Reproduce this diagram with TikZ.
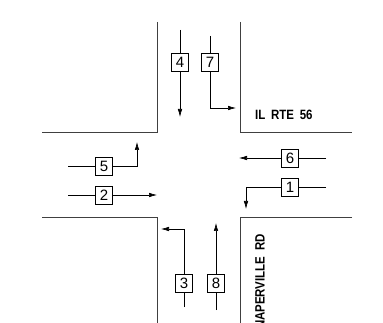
\documentclass[tikz,border=0pt]{standalone}
\usepackage{fontspec}
\usepackage{graphicx}
\setmainfont{Liberation Sans}
\usetikzlibrary{arrows.meta}
\newcommand{\streettext}[1]{\scalebox{0.85}[1]{\bfseries\fontsize{13.5}{13.5}\selectfont #1}}
\begin{document}
\begin{tikzpicture}[x=1pt,y=-1pt,
  curb/.style={draw=black!75,line width=0.9pt},
  lane/.style={draw=black,line width=0.6pt},
  arr/.style={lane,-{Latex[length=8pt,width=4.5pt]}},
  box/.style={draw=black,line width=0.8pt,minimum width=17pt,minimum height=18pt,inner sep=0pt,font=\fontsize{15}{15}\selectfont},
  street/.style={inner sep=0pt}]
\useasboundingbox (0,0) rectangle (383,323);
\begin{scope}
\clip (0,0) rectangle (383,323);
% curbs
\draw[curb] (157,22) -- (157,132) -- (42,132);
\draw[curb] (240,22) -- (240,132) -- (352,132);
\draw[curb] (42,217) -- (157,217) -- (157,323);
\draw[curb] (352,217) -- (240,217) -- (240,323);
% street names
\node[street,anchor=west] (rte) at (255,115) {\streettext{IL\hspace{3pt} RTE\hspace{3pt} 56}};
\node[street,anchor=east,rotate=90] (nap) at (260,234) {\streettext{NAPERVILLE\hspace{3pt} RD}};
% boxes
\node[box] (b4) at (180,62) {4};
\node[box] (b7) at (210,62) {7};
\node[box] (b5) at (104,166) {5};
\node[box] (b2) at (104,195) {2};
\node[box] (b6) at (290,158) {6};
\node[box] (b1) at (290,187) {1};
\node[box] (b3) at (184,283) {3};
\node[box] (b8) at (216,283) {8};
% free ends
\coordinate (s4) at (180,30);  \coordinate (e4) at (180,117);
\coordinate (s7) at (210,36);  \coordinate (e7) at (236,108);
\coordinate (s5) at (68,166);  \coordinate (e5) at (137,142);
\coordinate (s2) at (68,195);  \coordinate (e2) at (157,195);
\coordinate (s6) at (326,158); \coordinate (e6) at (239,158);
\coordinate (s1) at (326,187); \coordinate (e1) at (246,209);
\coordinate (s3) at (184,307); \coordinate (e3) at (161,229);
\coordinate (s8) at (216,310); \coordinate (e8) at (216,223);
% movements
\draw[lane] (s4) -- (b4); \draw[arr] (b4) -- (e4);
\draw[lane] (s7) -- (b7); \draw[arr] (b7.south) |- (e7);
\draw[lane] (s5) -- (b5); \draw[arr] (b5.east) -| (e5);
\draw[lane] (s2) -- (b2); \draw[arr] (b2) -- (e2);
\draw[lane] (s6) -- (b6); \draw[arr] (b6) -- (e6);
\draw[lane] (s1) -- (b1); \draw[arr] (b1.west) -| (e1);
\draw[lane] (s3) -- (b3); \draw[arr] (b3.north) |- (e3);
\draw[lane] (s8) -- (b8); \draw[arr] (b8) -- (e8);
\end{scope}
\end{tikzpicture}
\end{document}
